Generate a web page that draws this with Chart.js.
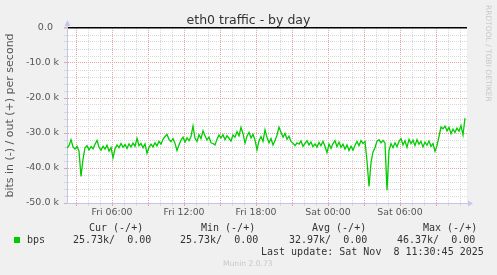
<!DOCTYPE html>
<html>
<head>
<meta charset="utf-8">
<title>eth0 traffic - by day</title>
<script src="https://cdn.jsdelivr.net/npm/chart.js@4.4.1/dist/chart.umd.min.js"></script>
<style>
    html, body { margin: 0; padding: 0; background: #f0f0f0; }
    #marco { position: relative; width: 497px; height: 275px; background: #f0f0f0; overflow: hidden; }
    #grafica { position: absolute; left: 0; top: 0; }
    .titulo { position: absolute; left: 0; top: 12px; width: 497px; text-align: center; font: 12.5px "DejaVu Sans", sans-serif; line-height: 15px; color: #333; }
    .mono { position: absolute; font: 10px "DejaVu Sans Mono", monospace; line-height: 12px; color: #333; white-space: pre; }
    .cuadro { position: absolute; left: 14px; top: 237px; width: 6px; height: 6px; background: #00cc00; }
    .marca { position: absolute; font-family: "DejaVu Sans", sans-serif; color: #c8c8c8; white-space: nowrap; }
</style>
</head>
<body>
<div id="marco">
    <canvas id="grafica" width="497" height="275"></canvas>
    <div class="titulo">eth0 traffic - by day</div>
    <div class="marca" style="left:484px; top:5px; font-size:7.5px; line-height:9px; writing-mode:vertical-rl;">RRDTOOL / TOBI OETIKER</div>
    <div class="mono" style="left:89px; top:222px;">Cur (-/+)</div>
    <div class="mono" style="left:201px; top:222px;">Min (-/+)</div>
    <div class="mono" style="left:312px; top:222px;">Avg (-/+)</div>
    <div class="mono" style="left:423px; top:222px;">Max (-/+)</div>
    <div class="cuadro"></div>
    <div class="mono" style="left:27px; top:234px;">bps</div>
    <div class="mono" id="colCur" style="left:73px; top:234px;"></div>
    <div class="mono" id="colMin" style="left:180px; top:234px;"></div>
    <div class="mono" id="colAvg" style="left:289px; top:234px;"></div>
    <div class="mono" id="colMax" style="left:397px; top:234px;"></div>
    <div class="mono" style="left:261px; top:246px;">Last update: Sat Nov  8 11:30:45 2025</div>
    <div class="marca" style="left:223px; top:259px; font-size:7.6px; line-height:10px;">Munin 2.0.73</div>
</div>
<script>
// Colores del tema (estilo rrdtool / munin)
const COLORES = {
    linea: '#00cc00',
    mayor: '#e8a4a4',
    menor: '#d8d8d8',
    eje: '#c4c6ee',
    cero: '#000000',
    texto: '#555555'
};

// Muestras cada 10 minutos desde Fri 02:15 (minuto 0) hasta Sat 11:35 (minuto 2000)
const PASO_MIN = 10;
const RANGO_MIN = 2000;

// bits in (-) en miles
const bpsIn = [
    -34.3, -33.6, -31.9, -34.0, -34.6, -33.8, -35.2, -42.4, -37.5, -34.2,
    -33.6, -34.8, -33.9, -34.5, -33.2, -32.1, -34.0, -34.9, -33.8, -34.6,
    -33.5, -35.2, -34.1, -37.1, -34.5, -33.4, -34.2, -33.0, -34.1, -33.3,
    -34.4, -33.1, -34.0, -32.9, -33.8, -31.5, -33.6, -33.0, -34.2, -33.1,
    -35.8, -34.1, -33.2, -34.0, -32.8, -33.7, -32.4, -33.2, -31.8, -31.0,
    -30.4, -31.8, -32.5, -31.6, -33.0, -35.0, -33.4, -32.0, -31.2, -32.6,
    -31.4, -32.2, -31.0, -28.0, -31.5, -32.4, -30.5, -31.6, -29.4, -30.8,
    -32.0, -31.2, -32.8, -33.0, -33.4, -31.8, -30.6, -31.4, -30.5, -31.9,
    -30.8, -31.5, -32.3, -30.6, -31.2, -29.6, -30.8, -28.4, -30.2, -32.9,
    -30.9, -29.8, -31.4, -30.4, -32.0, -34.8, -32.2, -31.0, -32.4, -29.1,
    -31.3, -32.8, -31.6, -33.4, -32.2, -30.6, -28.3, -29.8, -31.2, -30.1,
    -31.8, -30.9, -32.4, -32.9, -33.6, -32.8, -33.2, -32.3, -33.8, -33.0,
    -32.2, -33.4, -32.6, -33.9, -33.1, -34.0, -32.7, -33.6, -32.4, -33.8,
    -35.6, -33.2, -34.4, -33.0, -32.2, -33.9, -32.6, -34.1, -33.2, -34.6,
    -33.4, -35.0, -33.8, -34.9, -33.5, -32.4, -33.6, -32.2, -33.0, -32.4,
    -38.0, -45.3, -38.5, -35.4, -34.2, -32.3, -31.9, -32.8, -32.1, -32.9,
    -46.37, -35.0, -33.0, -34.2, -32.8, -33.9, -32.4, -31.6, -33.4, -32.2,
    -34.1, -31.8, -33.0, -32.0, -33.6, -31.9, -33.2, -32.4, -34.0, -32.6,
    -33.5, -32.3, -33.8, -33.0, -35.2, -33.6, -31.0, -28.3, -28.8, -28.0,
    -29.4, -28.4, -30.2, -28.9, -29.8, -28.6, -29.5, -27.9, -30.6, -25.73
];

// Etiquetas del eje X (minutos desde el inicio)
const minutosEtiqueta = [225, 585, 945, 1305, 1665];
const textosEtiqueta = ['Fri 06:00', 'Fri 12:00', 'Fri 18:00', 'Sat 00:00', 'Sat 06:00'];
const PRIMERA_HORA = 45; // Fri 03:00

// Valores de la leyenda
const leyendaCur = '25.73k/  0.00';
const leyendaMin = '25.73k/  0.00';
const leyendaAvg = '32.97k/  0.00';
const leyendaMax = '46.37k/  0.00';

document.getElementById('colCur').textContent = leyendaCur;
document.getElementById('colMin').textContent = leyendaMin;
document.getElementById('colAvg').textContent = leyendaAvg;
document.getElementById('colMax').textContent = leyendaMax;

const puntos = bpsIn.map((v, i) => ({ x: i * PASO_MIN, y: v * 1000 }));

const horas = [];
for (let t = PRIMERA_HORA; t < RANGO_MIN; t += 60) horas.push(t);

function esMayorX(v) {
    return ((v - PRIMERA_HORA) / 60) % 3 === 0;
}

// rrdtool deja hueco para la unidad, por eso "0.0" lleva espacios
function formatearY(v) {
    if (v === 0) return '0.0  ';
    return (v / 1000).toFixed(1) + ' k';
}

/**
 * Fondo blanco del área y flechas de los ejes
 */
const fondoYFlechas = {
    id: 'fondoYFlechas',
    beforeDraw(chart) {
        const { ctx, chartArea: a } = chart;
        ctx.save();
        ctx.fillStyle = '#ffffff';
        ctx.fillRect(a.left, a.top, a.right - a.left, a.bottom - a.top);
        ctx.restore();
    },
    afterDraw(chart) {
        const { ctx, chartArea: a } = chart;
        const x0 = Math.round(a.left) + 0.5;
        const y0 = Math.round(a.bottom) + 0.5;
        ctx.save();
        ctx.strokeStyle = COLORES.eje;
        ctx.fillStyle = COLORES.eje;
        ctx.lineWidth = 1;
        ctx.beginPath();
        ctx.moveTo(x0, a.top);
        ctx.lineTo(x0, a.top - 3);
        ctx.moveTo(a.right, y0);
        ctx.lineTo(a.right + 2, y0);
        ctx.stroke();
        ctx.beginPath();
        ctx.moveTo(x0 - 3, a.top - 2);
        ctx.lineTo(x0 + 3, a.top - 2);
        ctx.lineTo(x0, a.top - 8);
        ctx.closePath();
        ctx.fill();
        ctx.beginPath();
        ctx.moveTo(a.right + 1, y0 - 3);
        ctx.lineTo(a.right + 1, y0 + 3);
        ctx.lineTo(a.right + 6, y0);
        ctx.closePath();
        ctx.fill();
        ctx.restore();
    }
};

Chart.defaults.font.family = "'DejaVu Sans', sans-serif";

new Chart(document.getElementById('grafica'), {
    type: 'line',
    data: {
        datasets: [{
            label: 'bps',
            data: puntos,
            borderColor: COLORES.linea,
            borderWidth: 1.3,
            pointRadius: 0,
            tension: 0,
            fill: false
        }]
    },
    options: {
        responsive: false,
        animation: false,
        devicePixelRatio: 1,
        layout: { padding: { left: 0, right: 30, top: 28, bottom: 0 } },
        plugins: {
            legend: { display: false },
            tooltip: { enabled: false },
            title: { display: false }
        },
        scales: {
            x: {
                type: 'linear',
                min: 0,
                max: RANGO_MIN,
                afterBuildTicks: function (s) {
                    s.ticks = horas.map(v => ({ value: v }));
                },
                afterFit: function (s) { s.height = 72; },
                ticks: {
                    autoSkip: false,
                    maxRotation: 0,
                    padding: 1,
                    color: COLORES.texto,
                    font: { size: 9.4 },
                    callback: function (value) {
                        const k = minutosEtiqueta.indexOf(value);
                        return k >= 0 ? textosEtiqueta[k] : '';
                    }
                },
                grid: {
                    color: ctx => esMayorX(ctx.tick.value) ? COLORES.mayor : COLORES.menor,
                    tickColor: ctx => esMayorX(ctx.tick.value) ? COLORES.mayor : COLORES.menor,
                    tickLength: 3
                },
                border: { color: COLORES.eje, dash: [1, 1] }
            },
            y: {
                min: -50000,
                max: 0,
                afterFit: function (s) { s.width = 67; },
                ticks: {
                    stepSize: 2000,
                    autoSkip: false,
                    padding: 5,
                    color: COLORES.texto,
                    font: { size: 9.5 },
                    callback: function (value) {
                        return value % 10000 === 0 ? formatearY(value) : '';
                    }
                },
                grid: {
                    color: ctx => ctx.tick.value === 0 ? COLORES.cero : (ctx.tick.value % 10000 === 0 ? COLORES.mayor : COLORES.menor),
                    tickColor: ctx => ctx.tick.value % 10000 === 0 ? COLORES.mayor : COLORES.menor,
                    lineWidth: ctx => ctx.tick.value === 0 ? 1.5 : 1,
                    tickLength: 3
                },
                border: {
                    color: COLORES.eje,
                    dash: ctx => (ctx.tick && ctx.tick.value === 0) ? [] : [1, 1]
                },
                title: {
                    display: true,
                    text: 'bits in (-) / out (+) per second',
                    color: COLORES.texto,
                    font: { size: 11 },
                    padding: { top: 4, bottom: 0 }
                }
            }
        }
    },
    plugins: [fondoYFlechas]
});
</script>
</body>
</html>
